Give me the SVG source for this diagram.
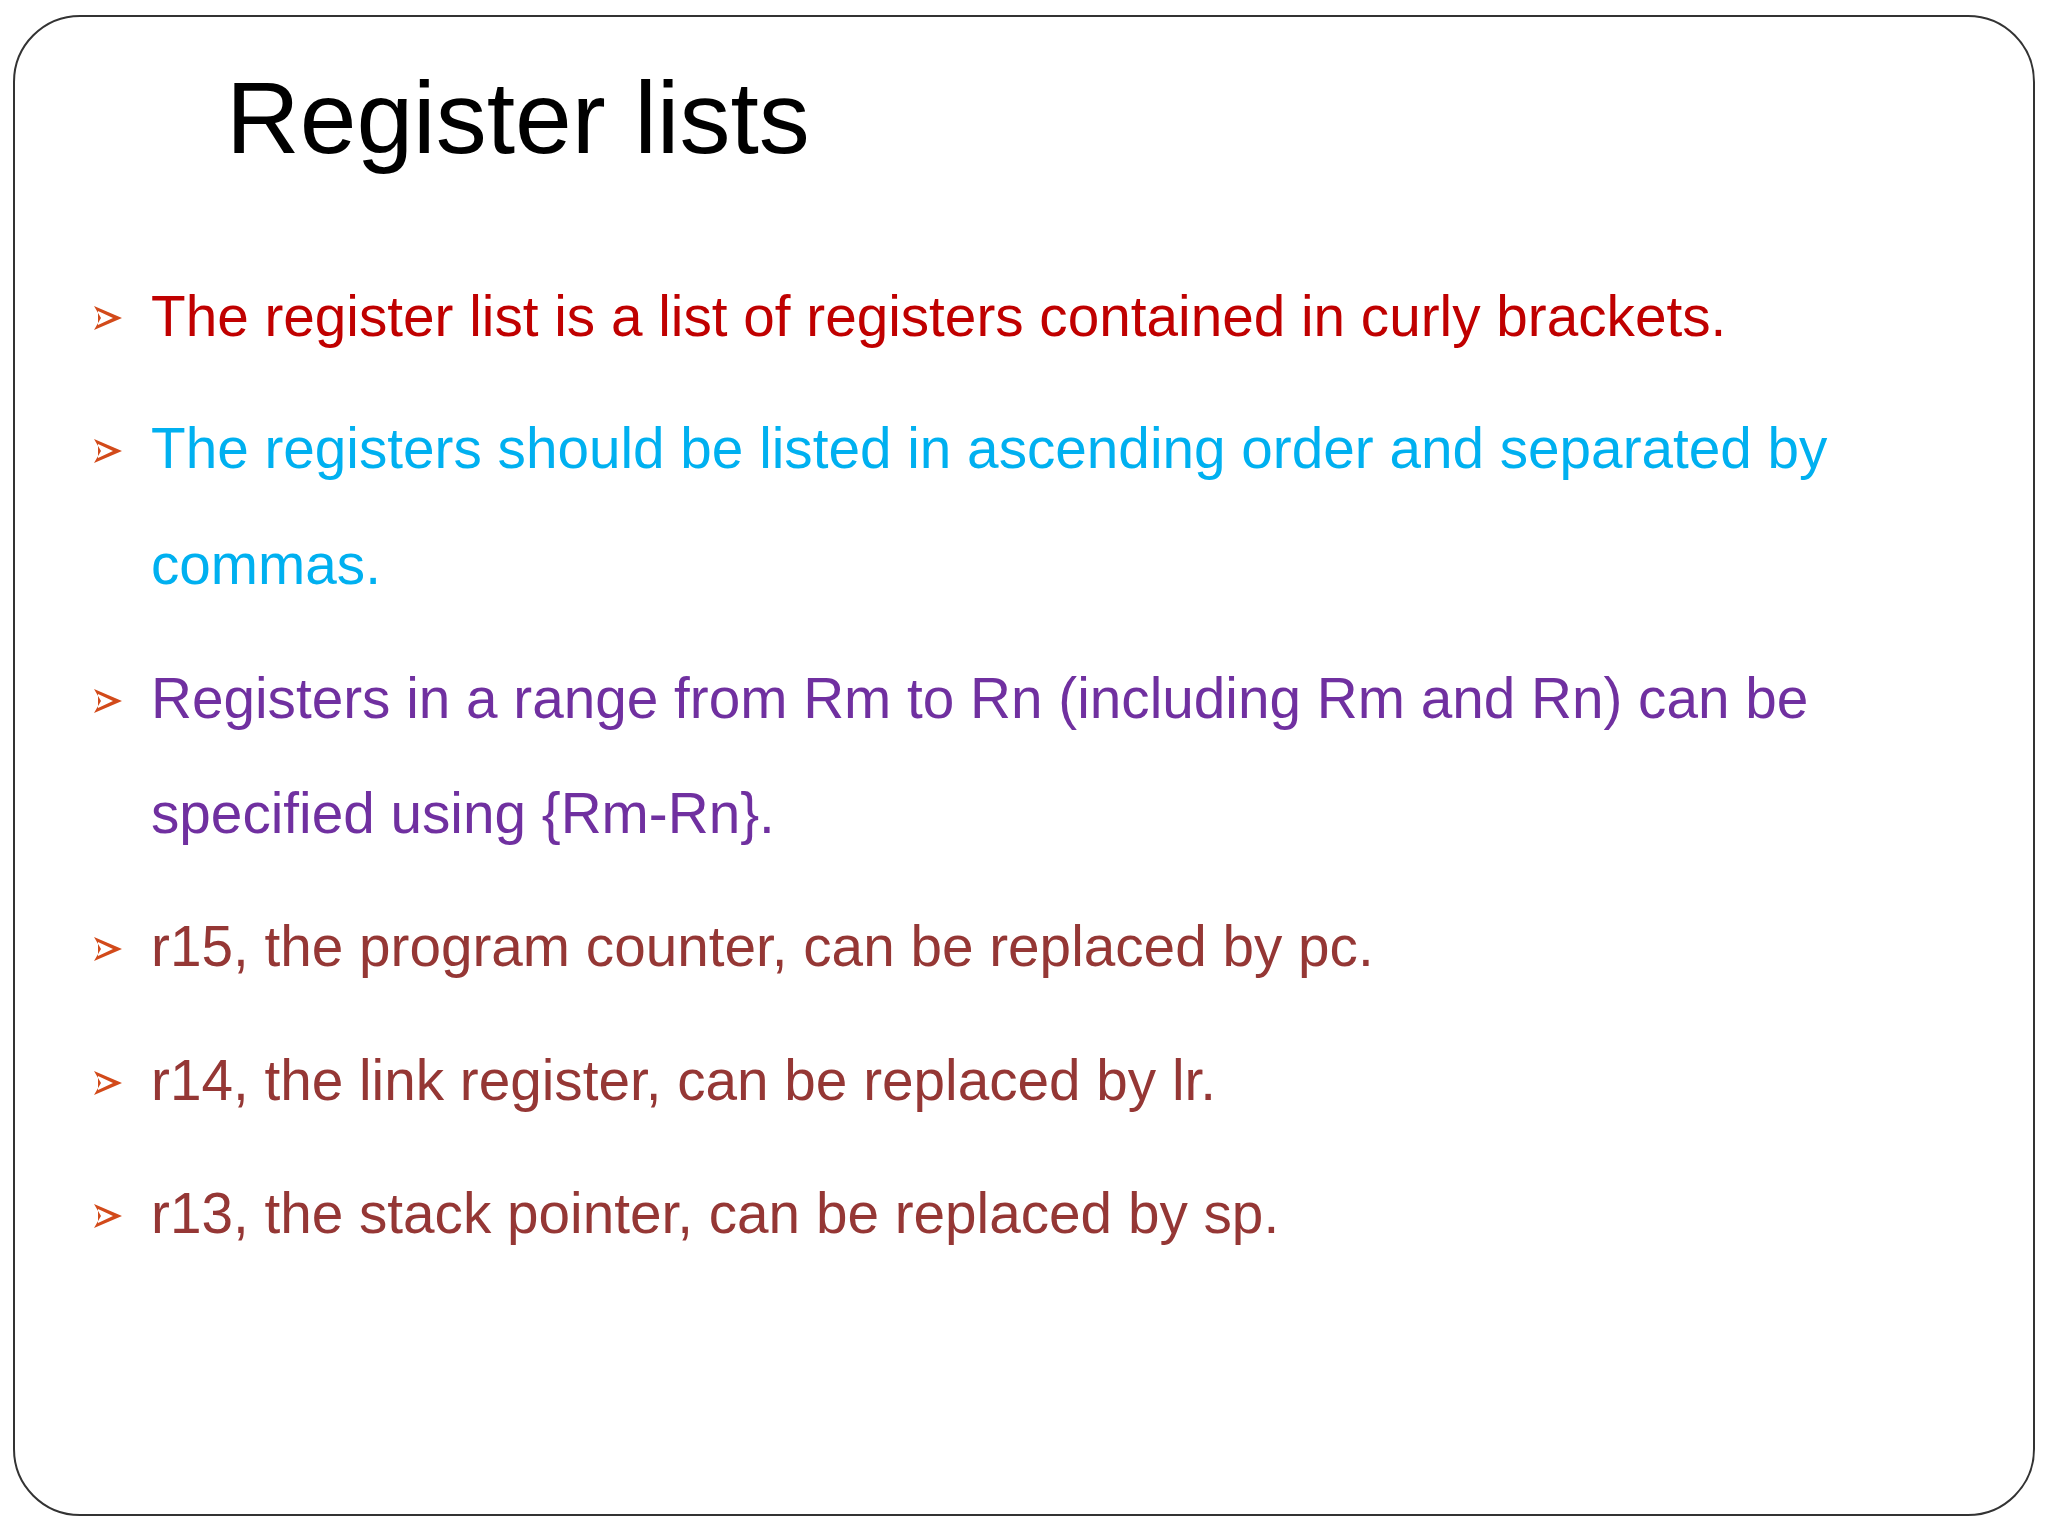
<svg xmlns="http://www.w3.org/2000/svg" width="2048" height="1536" viewBox="0 0 2048 1536">
<defs>
<style>
.t{font-family:"Liberation Sans",Arial,sans-serif;font-size:56.7px}
.b{fill:#D24A1A}
</style>
<g id="arrow"><path class="b" d="M0,-12 L28,0 L0,12 L7,0 Z M4,-7 L19,0 L4,7 Z" fill-rule="evenodd"/></g>
</defs>
<rect width="2048" height="1536" fill="#fff"/>
<rect id="frame" x="14" y="16" width="2020" height="1499" rx="66" fill="none" stroke="#333" stroke-width="2"/>
<text id="title" x="226" y="153" font-family="'Liberation Sans',Arial,sans-serif" font-size="102">Register lists</text>
<g id="b1"><use href="#arrow" x="94" y="318"/><text class="t" x="151" y="336" fill="#C00000">The register list is a list of registers contained in curly brackets.</text></g>
<g id="b2"><use href="#arrow" x="94" y="451"/><text class="t" x="151" y="468" fill="#00B0F0">The registers should be listed in ascending order and separated by</text><text class="t" x="151" y="584" fill="#00B0F0">commas.</text></g>
<g id="b3"><use href="#arrow" x="94" y="701"/><text class="t" x="151" y="718" fill="#7030A0">Registers in a range from Rm to Rn (including Rm and Rn) can be</text><text class="t" x="151" y="833" fill="#7030A0">specified using {Rm-Rn}.</text></g>
<g id="b4"><use href="#arrow" x="94" y="949"/><text class="t" x="151" y="966" fill="#953735">r15, the program counter, can be replaced by pc.</text></g>
<g id="b5"><use href="#arrow" x="94" y="1083"/><text class="t" x="151" y="1100" fill="#953735">r14, the link register, can be replaced by lr.</text></g>
<g id="b6"><use href="#arrow" x="94" y="1216"/><text class="t" x="151" y="1233" fill="#953735">r13, the stack pointer, can be replaced by sp.</text></g>
</svg>
